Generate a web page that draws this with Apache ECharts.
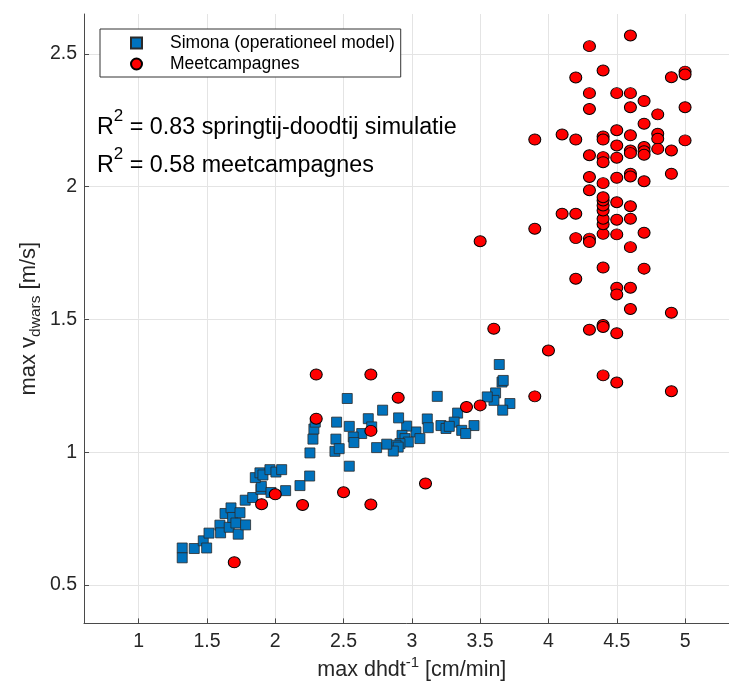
<!DOCTYPE html>
<html>
<head>
<meta charset="utf-8">
<script src="https://cdn.jsdelivr.net/npm/echarts@6/dist/echarts.min.js"></script>
<style>html,body{margin:0;padding:0;background:#fff}#c{width:729px;height:682px}</style>
</head>
<body>
<div id="c"></div>
<script>
// Simona (operationeel model)
const simonaX = [1.319,1.319,1.407,1.473,1.498,1.515,1.595,1.600,1.632,1.676,1.663,1.688,1.712,1.729,1.742,1.783,1.780,1.835,1.895,1.898,1.854,1.888,1.910,1.961,2.005,2.047,1.969,2.076,2.181,2.252,2.254,2.276,2.283,2.293,2.449,2.444,2.437,
3.640,3.660,3.669,3.613,3.601,3.552,3.718,3.665,3.186,3.335,3.310,3.455,3.365,3.394,3.213,3.250,3.274,3.113,3.120,3.030,3.059,2.962,2.903,2.928,2.950,2.974,2.913,2.884,2.900,2.864,2.816,2.742,2.786,2.681,2.706,2.633,2.571,2.576,2.542,2.468,2.527,2.542];
const simonaY = [0.639,0.602,0.637,0.666,0.639,0.695,0.725,0.696,0.769,0.790,0.717,0.754,0.733,0.691,0.772,0.726,0.819,0.829,0.860,0.871,0.904,0.922,0.914,0.934,0.925,0.934,0.848,0.855,0.874,0.910,0.997,1.049,1.087,1.113,1.113,1.049,1.003,
1.330,1.264,1.270,1.223,1.195,1.208,1.183,1.158,1.210,1.147,1.113,1.100,1.082,1.070,1.100,1.089,1.097,1.125,1.092,1.076,1.051,1.098,1.129,1.063,1.051,1.038,1.032,1.026,1.019,1.004,1.030,1.017,1.158,1.126,1.095,1.070,1.057,1.036,1.097,1.013,1.202,0.947];
// Meetcampagnes
const meetX = [1.70,1.90,2.00,2.20,2.30,2.30,2.70,2.90,2.70,3.40,3.50,3.10,2.50,2.70,3.60,3.50,3.90,4.00,3.90,4.10,4.20,4.20,4.30,4.30,4.20,4.30,4.40,4.40,4.50,4.40,4.50,4.40,4.50,4.50,4.40,4.50,4.40,4.40,4.50,4.40,4.40,4.40,4.40,4.50,4.30,4.30,4.40,4.50,4.30,4.40,4.40,4.50,4.60,4.60,4.60,4.70,4.70,4.60,4.60,4.90,4.90,
4.60,4.30,4.40,4.20,4.90,5.00,5.00,4.30,4.50,4.60,4.70,4.30,4.60,5.00,4.80,4.70,4.50,4.80,4.80,4.80,4.10,3.90,4.20,4.40,4.40,4.60,5.00,4.50,4.60,4.60,4.70,4.70,4.70,4.90,4.60,4.60,4.70,4.90];
const meetY = [0.585,0.804,0.841,0.801,1.126,1.292,1.292,1.205,1.080,1.170,1.176,0.882,0.849,0.803,1.465,1.794,1.841,1.383,1.210,1.898,1.898,1.806,1.804,1.791,1.653,1.461,1.479,1.471,1.448,1.289,1.262,1.695,1.619,1.594,1.822,1.820,1.858,1.879,1.875,1.910,1.929,1.948,1.960,1.941,1.986,2.036,2.013,2.033,2.118,2.111,2.092,2.109,1.926,1.879,1.772,1.826,1.691,1.619,1.539,1.525,1.229,
2.569,2.529,2.437,2.411,2.412,2.433,2.422,2.352,2.352,2.352,2.322,2.292,2.299,2.299,2.272,2.237,2.212,2.199,2.180,2.142,2.196,2.177,2.177,2.189,2.177,2.193,2.174,2.155,2.136,2.126,2.149,2.133,2.120,2.136,2.048,2.038,2.020,2.048];
const xTicks = [1,1.5,2,2.5,3,3.5,4,4.5,5];
const yTicks = [0.5,1,1.5,2,2.5];
const seriesNames = ['Simona (operationeel model)','Meetcampagnes'];
const annotations = ['0.83 springtij-doodtij simulatie','0.58 meetcampagnes'];

const FF = '"Liberation Sans", Arial, Helvetica, sans-serif';
const zip = (a,b) => a.map((v,i)=>[v,b[i]]);

const chart = echarts.init(document.getElementById('c'), null, {renderer:'canvas'});
const axisCol = '#4a4a4a';
const gridCol = '#e4e4e4';

function r2Text(txt, top){
  return {
    type:'text', left: 97, top: top, z: 100,
    style: {
      text: '{r|R}{s|2}{r| = ' + txt + '}',
      rich: {
        r: {fontSize: 23.3, fontFamily: FF, fill:'#000', lineHeight: 40},
        s: {fontSize: 17, fontFamily: FF, fill:'#000', lineHeight: 17, verticalAlign:'top'}
      }
    }
  };
}

chart.setOption({
  animation: false,
  backgroundColor: '#fff',
  grid: {left: 84, top: 14, width: 655.7, height: 609.4, containLabel: false, outerBoundsMode: 'none'},
  xAxis: {
    type: 'value', min: 0.6, max: 5.4,
    axisLine: {show: true, onZero: false, lineStyle: {color: axisCol, width: 1}},
    axisTick: {show: true, inside: true, length: 5, customValues: xTicks, lineStyle: {color: axisCol}},
    axisLabel: {customValues: xTicks, fontSize: 19.5, fontFamily: FF, color: '#262626', margin: 8},
    splitLine: {show: true, lineStyle: {color: gridCol, width: 1}},
    name: '{r|max dhdt}{s|-1}{r| [cm/min]}',
    nameLocation: 'middle', nameGap: 32, nameMoveOverlap: false,
    nameTextStyle: {
      rich: {
        r: {fontSize: 21.5, fontFamily: FF, color: '#262626', lineHeight: 30},
        s: {fontSize: 15, fontFamily: FF, color: '#262626', lineHeight: 15, verticalAlign: 'top'}
      }
    }
  },
  yAxis: {
    type: 'value', min: 0.355, max: 2.65,
    axisLine: {show: true, onZero: false, lineStyle: {color: axisCol, width: 1}},
    axisTick: {show: true, inside: true, length: 5, customValues: yTicks, lineStyle: {color: axisCol}},
    axisLabel: {customValues: yTicks, fontSize: 19.5, fontFamily: FF, color: '#262626', margin: 7},
    splitLine: {show: true, lineStyle: {color: gridCol, width: 1}},
    name: '{r|max v}{s|dwars}{r| [m/s]}',
    nameLocation: 'middle', nameGap: 40, nameMoveOverlap: false,
    nameTextStyle: {
      rich: {
        r: {fontSize: 22, fontFamily: FF, color: '#262626', lineHeight: 30},
        s: {fontSize: 15.5, fontFamily: FF, color: '#262626', lineHeight: 15, verticalAlign: 'bottom'}
      }
    }
  },
  legend: {
    orient: 'vertical', left: 100, top: 29,
    padding: [5, 6, 4, 30],
    itemWidth: 11, itemHeight: 11, itemGap: 3,
    backgroundColor: '#fff', borderColor: '#333', borderWidth: 1, borderRadius: 0,
    textStyle: {fontSize: 17.5, fontFamily: FF, color: '#000', padding: [0, 0, 0, 23], lineHeight: 18},
    data: [{name: seriesNames[0], icon: 'rect'}, {name: seriesNames[1], icon: 'circle'}]
  },
  graphic: [r2Text(annotations[0], 108), r2Text(annotations[1], 146)],
  series: [
    {
      name: seriesNames[0], type: 'scatter', symbol: 'rect', symbolSize: 10,
      itemStyle: {color: '#0072BD', borderColor: '#2a2a2a', borderWidth: 0.8, opacity: 1},
      data: zip(simonaX, simonaY), z: 2
    },
    {
      name: seriesNames[1], type: 'scatter', symbol: 'circle', symbolSize: [12, 11],
      itemStyle: {color: '#FF0000', borderColor: '#000', borderWidth: 1, opacity: 1},
      data: zip(meetX, meetY), z: 3
    }
  ]
});
</script>
</body>
</html>
